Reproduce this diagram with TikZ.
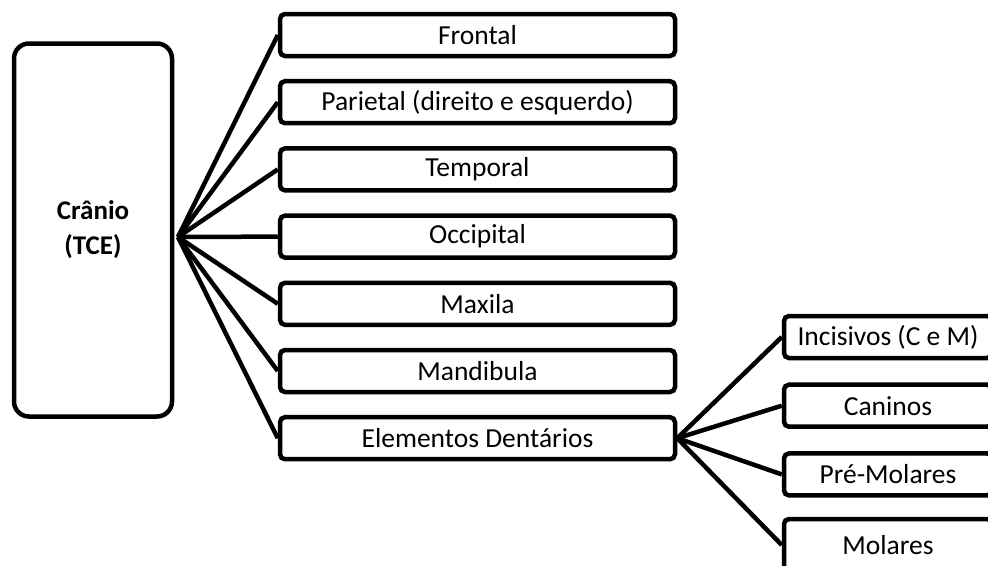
\documentclass[tikz,border=0pt]{standalone}
\usepackage{fontspec}
\setmainfont{Carlito}

\begin{document}
\begin{tikzpicture}[x=1pt, y=-1pt, line width=4.5pt,
		osso/.style={draw, rounded corners=5pt, inner sep=0pt, minimum width=395pt, minimum height=42pt, font=\fontsize{27.5}{30}\selectfont},
		dente/.style={osso, minimum width=208pt}]
		\useasboundingbox (0,0) rectangle (988,565);
		\clip (0,0) rectangle (988,565);
		\node [draw, rounded corners=15pt, minimum width=158pt, minimum height=373pt, align=center, font=\bfseries\fontsize{27}{35}\selectfont](Cranio) at (93,230) {Crânio\\(TCE)};
		\coordinate (raiz) at (178,237);
		\node [osso](Frontal) at (477.5,35) {Frontal};
		\node [osso](Parietal) at (477.5,102.2) {Parietal (direito e esquerdo)};
		\node [osso](Temporal) at (477.5,169.4) {Temporal};
		\node [osso](Occipital) at (477.5,236.6) {Occipital};
		\node [osso](Maxila) at (477.5,303.8) {Maxila};
		\node [osso](Mandibula) at (477.5,371) {Mandibula};
		\node [osso](Elementos) at (477.5,438.2) {Elementos Dentários};
		\node [dente](Incisivos) at (888,337) {Incisivos (C e M)};
		\node [dente](Caninos) at (888,405.7) {Caninos};
		\node [dente](PreMolares) at (888,474.4) {Pré-Molares};
		\node [dente, minimum height=52pt](Molares) at (888,545) {Molares};
		\draw (raiz)--(Frontal.west);
		\draw (raiz)--(Parietal.west);
		\draw (raiz)--(Temporal.west);
		\draw (raiz)--(Occipital.west);
		\draw (raiz)--(Maxila.west);
		\draw (raiz)--(Mandibula.west);
		\draw (raiz)--(Elementos.west);
		\draw (Elementos.east)--(Incisivos.west);
		\draw (Elementos.east)--(Caninos.west);
		\draw (Elementos.east)--(PreMolares.west);
		\draw (Elementos.east)--(Molares.west);
	\end{tikzpicture}
\end{document}
